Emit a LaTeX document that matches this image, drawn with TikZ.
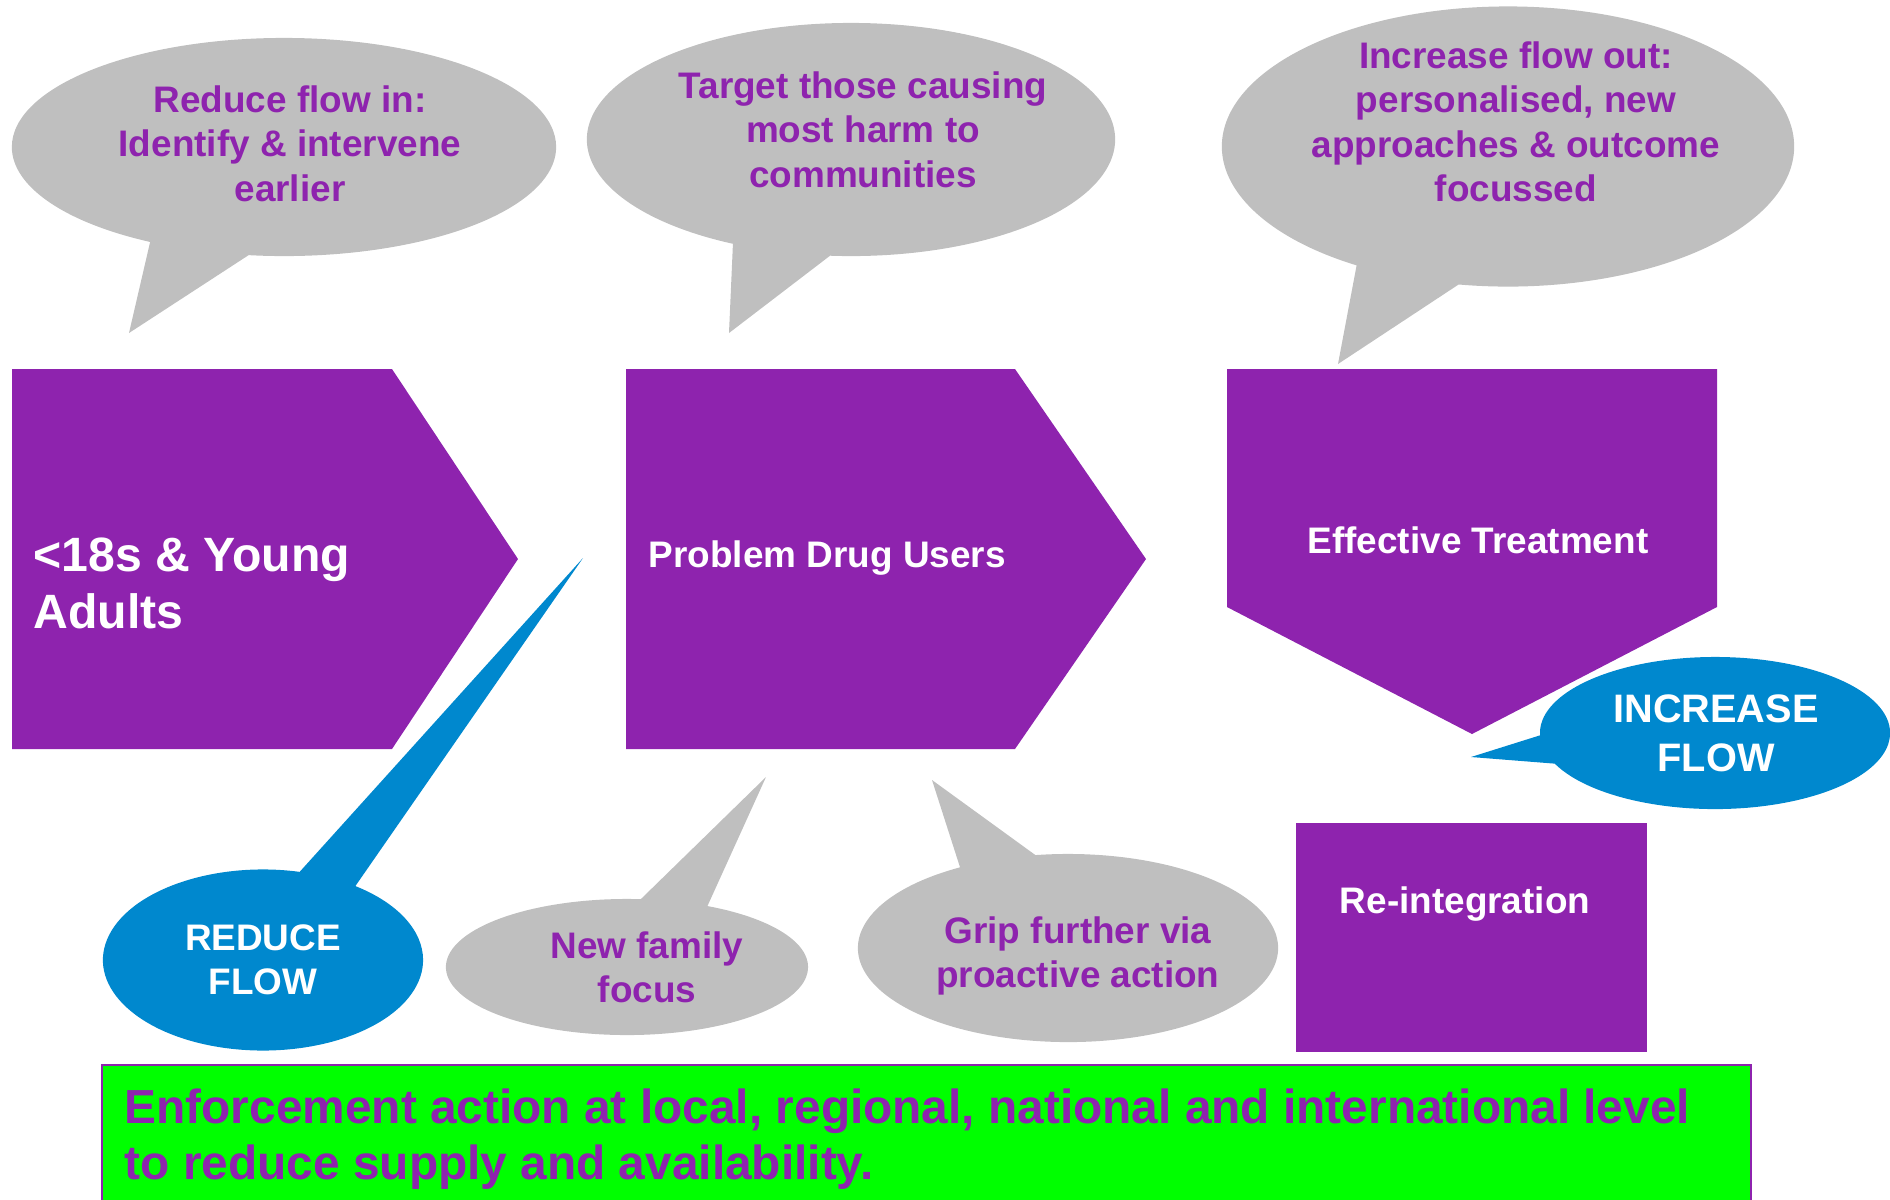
\documentclass[tikz,border=0pt]{standalone}
\usepackage{fontspec}
\setmainfont{Liberation Sans}
\usepackage{tikz}
\usetikzlibrary{shapes.callouts}

\definecolor{stagepurple}{RGB}{142,35,174}
\definecolor{bubgrey}{RGB}{191,191,191}
\definecolor{flowblue}{RGB}{0,136,206}
\definecolor{enfgreen}{RGB}{0,255,0}

\tikzset{
  stage/.style={fill=stagepurple},
  stagetxt/.style={text=white, inner sep=0pt, font=\fontsize{10.5}{12.6}\selectfont\bfseries},
  greybub/.style={ellipse callout, fill=bubgrey, inner sep=0pt, callout pointer arc=22},
  bluebub/.style={ellipse callout, fill=flowblue, inner sep=0pt, callout pointer arc=22},
  bubtxt/.style={text=stagepurple, align=center, anchor=north, inner sep=0pt, font=\fontsize{10.5}{12.6}\selectfont\bfseries},
  flowtxt/.style={text=white, align=center, anchor=north, inner sep=0pt, font=\fontsize{10.5}{12.6}\selectfont\bfseries},
  enforce/.style={fill=enfgreen, draw=stagepurple, line width=0.6pt}
}

\begin{document}
\begin{tikzpicture}[x=0.01cm, y=-0.01cm]
\path[use as bounding box] (0,0) rectangle (1890,1199);
\clip (0,0) rectangle (1890,1199);

% the three stages
\fill[stage] (12,369) -- (392,369) -- (518,559) -- (392,749) -- (12,749) -- cycle;
\fill[stage] (626,369) -- (1015,369) -- (1146,559) -- (1015,749) -- (626,749) -- cycle;
\fill[stage] (1227,369) -- (1717,369) -- (1717,607) -- (1472,734) -- (1227,607) -- cycle;
\fill[stage] (1296,823) rectangle (1647,1052);
\node[stagetxt, anchor=north west, align=left, font=\fontsize{13.7}{16.2}\selectfont\bfseries] (youth) at (33,537) {<18s \& Young\\Adults};
\node[stagetxt, anchor=base west] (pdu) at (648,567) {Problem Drug Users};
\node[stagetxt, anchor=base] (treat) at (1478,553) {Effective Treatment};
\node[stagetxt, anchor=base] (reint) at (1465,913) {Re-integration};

% grey callouts
\node[greybub, minimum width=5.44cm, minimum height=2.18cm, callout absolute pointer={(129,333)}] (inBub) at (284,147) {};
\node[bubtxt] (inTxt) at (290,85) {Reduce flow in:\\Identify \& intervene\\earlier};
\node[greybub, minimum width=5.28cm, minimum height=2.33cm, callout absolute pointer={(729,333)}] (harmBub) at (851,139.5) {};
\node[bubtxt] (harmTxt) at (863,71) {Target those causing\\most harm to\\communities};
\node[greybub, minimum width=5.72cm, minimum height=2.80cm, callout absolute pointer={(1338,364)}] (outBub) at (1508,146.5) {};
\node[bubtxt] (outTxt) at (1516,41) {Increase flow out:\\personalised, new\\approaches \& outcome\\focussed};
\node[greybub, minimum width=3.62cm, minimum height=1.36cm, callout absolute pointer={(766,777)}] (famBub) at (627,967) {};
\node[bubtxt] (famTxt) at (647,931) {New family\\focus};
\node[greybub, minimum width=4.20cm, minimum height=1.88cm, callout absolute pointer={(932,780)}] (gripBub) at (1068,948) {};
\node[bubtxt] (gripTxt) at (1078,916) {Grip further via\\proactive action};

% blue callouts
\node[bluebub, minimum width=3.20cm, minimum height=1.81cm, callout absolute pointer={(583,558)}] (redBub) at (263,960) {};
\node[flowtxt] (redTxt) at (263,924) {REDUCE\\FLOW};
\node[bluebub, minimum width=3.50cm, minimum height=1.52cm, callout absolute pointer={(1471,757)}] (incBub) at (1715,733) {};
\node[flowtxt, font=\fontsize{11.3}{13.9}\selectfont\bfseries] (incTxt) at (1716,694) {INCREASE\\FLOW};

% enforcement bar
\draw[enforce] (102,1065) rectangle (1751,1240);
\node[anchor=north west, align=left, inner sep=0pt, text=stagepurple, font=\fontsize{13.6}{15.9}\selectfont\bfseries] (enfTxt) at (124,1088) {Enforcement action at local, regional, national and international level\\to reduce supply and availability.};
\end{tikzpicture}
\end{document}
